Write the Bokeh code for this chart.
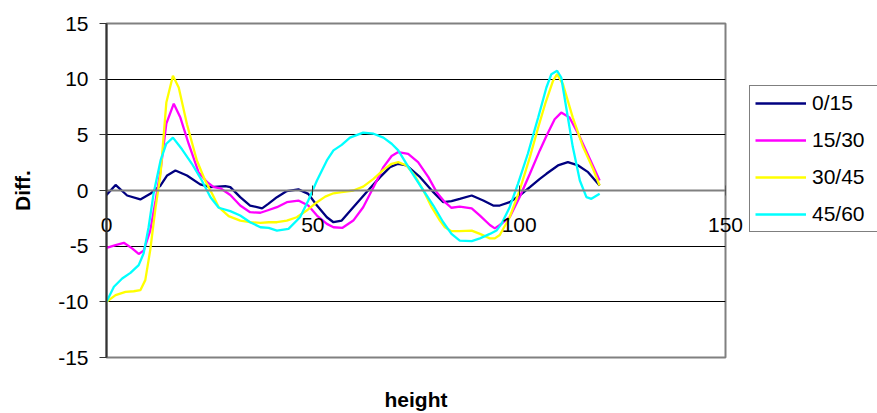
from bokeh.plotting import figure
from bokeh.layouts import row
from bokeh.models import (Range1d, LinearAxis, FixedTicker, Legend, LegendItem,
                          Grid)
from bokeh.embed import file_html
from bokeh.resources import INLINE

# ---------------- data ----------------
series_names = ["0/15", "15/30", "30/45", "45/60"]
series_colors = ["#000080", "#FF00FF", "#FFFF00", "#00FFFF"]

x_0_15 = [0, 2.2, 5, 8.2, 10.6, 13.1, 14.7, 16.7, 19.5, 22.7, 25.2, 28.8, 30,
          32.4, 34.8, 37.7, 39.2, 41.3, 43.7, 46.5, 48.9, 51, 53.4, 55, 57,
          59.8, 63, 66.3, 68.7, 70.7, 72.7, 76, 79.2, 81.6, 83.6, 85.6, 88.5,
          91.3, 93.7, 95.3, 97.7, 100.1, 102.6, 105, 106.6, 109.4, 111.8,
          114.3, 116.7, 119.5]
y_0_15 = [-0.4, 0.5, -0.45, -0.8, -0.3, 0.45, 1.35, 1.8, 1.35, 0.55, 0.3, 0.4,
          0.3, -0.6, -1.35, -1.6, -1.2, -0.6, -0.05, 0.1, -0.3, -1.35, -2.4,
          -2.85, -2.7, -1.5, -0.15, 1.2, 2.1, 2.4, 2.25, 1.2, -0.15, -1.05,
          -0.95, -0.75, -0.45, -0.9, -1.35, -1.35, -1.05, -0.45, 0.3, 1.05,
          1.5, 2.25, 2.55, 2.25, 1.65, 0.45]

x_15_30 = [0, 2.2, 4.2, 6.2, 7.8, 9, 10.6, 11.9, 13.1, 14.5, 16.3, 17.9, 19.9,
           22.3, 24.4, 26, 27.6, 30, 32.4, 34.8, 37.3, 39.3, 41.3, 43.7, 46.5,
           48.9, 51, 53.4, 55, 57.2, 59.8, 62.2, 64.7, 67.1, 69.1, 70.7, 73.1,
           75.5, 78, 80, 82, 83.6, 85.6, 88.5, 90.5, 92.9, 94.1, 95.3, 97.7,
           100.1, 102.6, 105, 106.6, 108.6, 110.2, 112.2, 114.7, 117.1, 119.5]
y_15_30 = [-5.15, -4.9, -4.7, -5.2, -5.7, -5.4, -3.6, -0.9, 1.8, 6.0, 7.8,
           6.55, 4.2, 1.65, 0.75, 0.3, 0.2, -0.4, -1.35, -1.95, -2.0, -1.75,
           -1.5, -1.05, -0.9, -1.35, -2.25, -3.0, -3.3, -3.35, -2.7, -1.5, 0.3,
           2.1, 3.1, 3.45, 3.3, 2.55, 1.2, -0.15, -1.05, -1.55, -1.45, -1.6,
           -2.25, -3.1, -3.4, -3.1, -2.4, -0.6, 1.5, 3.6, 4.9, 6.4, 7.0, 6.55,
           4.8, 2.85, 0.9]

x_30_45 = [0, 2.2, 4.6, 6.6, 8.2, 9.4, 10.6, 11.9, 13.1, 14.5, 16.1, 17.5,
           19.5, 21.9, 23.9, 25.6, 27.2, 29.6, 32.4, 34.8, 37.3, 39.3, 41.3,
           43.7, 46.1, 48.5, 51, 53, 55, 57, 59.8, 62.2, 64.7, 67.1, 69.1,
           70.7, 72.7, 74.7, 76.8, 78.8, 80.8, 82, 83.6, 85.6, 88.5, 90.5,
           92.9, 94.1, 95.3, 97.7, 100.1, 102.6, 104.6, 106.4, 108.2, 109.2,
           110.6, 113, 115.5, 117.9, 119.5]
y_30_45 = [-10.0, -9.4, -9.1, -9.05, -8.95, -8.05, -5.35, -1.5, 1.5, 7.9,
           10.3, 9.25, 5.95, 2.7, 0.9, -0.3, -1.5, -2.3, -2.7, -2.85, -2.9,
           -2.85, -2.85, -2.7, -2.4, -1.8, -1.05, -0.55, -0.25, -0.15, 0,
           0.35, 1.05, 1.85, 2.4, 2.55, 2.25, 1.35, 0, -1.5, -2.7, -3.3,
           -3.65, -3.65, -3.6, -3.9, -4.3, -4.3, -4.0, -2.4, 0, 3.0, 5.65,
           7.9, 9.85, 10.45, 9.55, 6.55, 3.9, 1.95, 0.45]

x_45_60 = [0, 1.8, 3.8, 5.8, 7.8, 9, 10.2, 11.4, 13.1, 14.5, 16.1, 18.3, 20.7,
           23.1, 25.2, 27.2, 30, 32.4, 34.8, 37.3, 39.3, 41.3, 44.1, 46.9,
           48.9, 51, 53.4, 55, 57, 59, 62.2, 64.7, 67.1, 69.1, 70.7, 72.7,
           74.7, 76.8, 79.2, 81.6, 83.6, 85.6, 88.5, 90.5, 92.9, 94.5, 95.7,
           97.7, 99.7, 102.1, 104.6, 106.6, 107.8, 109.2, 110.2, 111.4, 113,
           114.7, 116.3, 117.5, 119.5]
y_45_60 = [-10.0, -8.65, -7.9, -7.4, -6.7, -5.65, -3.3, -0.3, 2.7, 4.2, 4.75,
           3.7, 2.4, 0.9, -0.6, -1.55, -1.85, -2.25, -2.85, -3.3, -3.35, -3.6,
           -3.45, -2.4, -0.9, 0.9, 2.7, 3.6, 4.1, 4.75, 5.2, 5.1, 4.75, 4.2,
           3.6, 2.4, 1.2, 0, -1.35, -2.85, -3.9, -4.5, -4.55, -4.3, -3.9,
           -3.6, -3.0, -1.5, 0.6, 3.3, 6.55, 9.25, 10.45, 10.75, 10.15, 7.45,
           3.9, 0.9, -0.6, -0.75, -0.3]

x_ticks = [0, 50, 100, 150]
y_ticks = [-15, -10, -5, 0, 5, 10, 15]

# ---------------- layout ----------------
FONT = "Liberation Sans"
W_TOTAL, H = 877, 413
LEFT, TOP, BOTTOM, RIGHT = 106, 23, 55, 20
PLOT_W = 619
W_MAIN = LEFT + PLOT_W + RIGHT
W_LEG = W_TOTAL - W_MAIN

p = figure(width=W_MAIN, height=H, output_backend="svg", toolbar_location=None,
           x_range=Range1d(x_ticks[0], x_ticks[-1]),
           y_range=Range1d(y_ticks[0], y_ticks[-1]),
           x_axis_location=None, y_axis_location=None,
           min_border_left=LEFT, min_border_right=RIGHT,
           min_border_top=TOP, min_border_bottom=BOTTOM)
p.background_fill_color = "white"
p.border_fill_color = "white"
p.outline_line_color = "#808080"
p.outline_line_width = 2
p.center = [r for r in p.center if not isinstance(r, Grid)]

# horizontal gridlines
p.add_layout(Grid(dimension=1, ticker=FixedTicker(ticks=y_ticks[1:-1]),
                  grid_line_color="black", grid_line_width=1))

# y axis on the left
yax = LinearAxis(ticker=FixedTicker(ticks=y_ticks), axis_label="Diff.",
                 major_label_overrides={t: str(t) for t in y_ticks},
                 major_tick_out=7, major_tick_in=0,
                 minor_tick_line_color=None,
                 axis_line_color="#333333", axis_line_width=2,
                 major_tick_line_color="#333333", major_tick_line_width=1,
                 major_label_standoff=11,
                 major_label_text_font=FONT,
                 major_label_text_font_size="21px",
                 major_label_text_color="black",
                 axis_label_standoff=21,
                 axis_label_text_font=FONT,
                 axis_label_text_font_size="21px",
                 axis_label_text_font_style="bold",
                 axis_label_text_color="black")
p.add_layout(yax, "left")

# x axis line + cross ticks at y = 0
xline = LinearAxis(ticker=FixedTicker(ticks=x_ticks), fixed_location=0,
                   major_tick_out=5, major_tick_in=5,
                   minor_tick_line_color=None,
                   axis_line_color="#808080", axis_line_width=2,
                   major_tick_line_color="#333333", major_tick_line_width=1,
                   major_label_text_color=None,
                   major_label_text_font_size="0px")
p.add_layout(xline, "below")

# x tick labels (lifted up next to the y = 0 line) and the x title
xlab = LinearAxis(ticker=FixedTicker(ticks=x_ticks), axis_label="height",
                  axis_line_color=None, major_tick_line_color=None,
                  minor_tick_line_color=None,
                  major_tick_out=0, major_tick_in=0,
                  major_label_standoff=-140,
                  major_label_text_font=FONT,
                  major_label_text_font_size="21px",
                  major_label_text_color="black",
                  axis_label_standoff=153,
                  axis_label_text_font=FONT,
                  axis_label_text_font_size="21px",
                  axis_label_text_font_style="bold",
                  axis_label_text_color="black")
p.add_layout(xlab, "below")

xs = [x_0_15, x_15_30, x_30_45, x_45_60]
ys = [y_0_15, y_15_30, y_30_45, y_45_60]
for color, xv, yv in zip(series_colors, xs, ys):
    p.line(xv, yv, line_color=color, line_width=2.3)

# ---------------- legend panel on the right ----------------
# the same series are drawn here outside the visible range, only so that the
# legend has real renderers to take its swatches from
q = figure(width=W_LEG, height=H, output_backend="svg", toolbar_location=None,
           x_range=Range1d(1000, 1001), y_range=Range1d(1000, 1001),
           x_axis_location=None, y_axis_location=None,
           min_border_left=0, min_border_right=0,
           min_border_top=0, min_border_bottom=0)
q.outline_line_color = None
q.background_fill_color = "white"
q.border_fill_color = "white"
q.center = [r for r in q.center if not isinstance(r, Grid)]

items = []
for name, color, xv, yv in zip(series_names, series_colors, xs, ys):
    r = q.line(xv, yv, line_color=color, line_width=2.3)
    items.append(LegendItem(label=name, renderers=[r]))

legend = Legend(items=items, location=(4, 125),
                border_line_color="black", border_line_width=1,
                background_fill_color="white", background_fill_alpha=1,
                padding=5, spacing=13, margin=0,
                label_height=24, glyph_height=24, glyph_width=51,
                label_standoff=6, label_width=72,
                label_text_font=FONT, label_text_font_size="21px",
                label_text_color="black")
q.add_layout(legend)

layout = row(p, q)
open("out.html", "w").write(file_html(layout, INLINE))
